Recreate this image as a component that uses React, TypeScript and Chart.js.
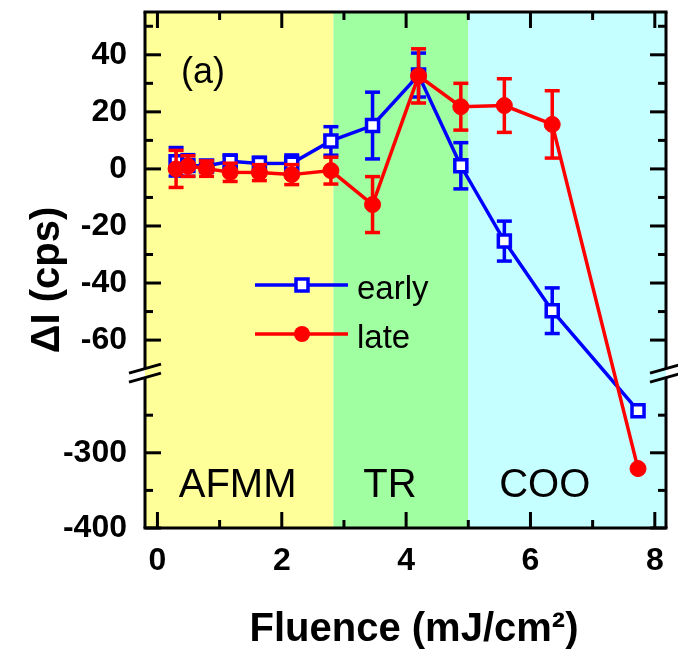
import { useEffect, useRef } from 'react';
import { Chart, registerables, LinearScale } from 'chart.js';

Chart.register(...registerables);

// ---------------- data ----------------
const fluence = [0.30, 0.49, 0.79, 1.17, 1.64, 2.16, 2.79, 3.46, 4.20, 4.88, 5.58, 6.35, 7.73];
const earlyValues = [2.5, 1.2, 1.0, 2.7, 1.9, 2.0, 9.8, 15.2, 32.9, 1.1, -25.3, -49.7, -244];
const earlyErrors = [5.0, 3.8, 1.7, 2.2, 2.2, 2.9, 5.0, 11.7, 7.7, 8.1, 7.0, 8.0, 0];
const lateValues = [0.0, 1.0, 0.1, -1.2, -1.3, -2.0, -0.6, -12.5, 32.6, 21.8, 22.2, 15.6, -321];
const lateErrors = [6.5, 3.6, 2.7, 3.2, 2.8, 3.5, 4.7, 9.8, 9.5, 8.2, 9.4, 11.8, 0];
const seriesNames = ['early', 'late'];

const xLabelTicks = [0, 2, 4, 6, 8];
const xMinorTicks = [1, 3, 5, 7];
const yLabelTicks = [-400, -300, -60, -40, -20, 0, 20, 40];
const yMinorTicks = [-350, -250, -50, -30, -10, 10, 30, 50];

const regionNames = ['AFMM', 'TR', 'COO'];
const regionEdges = [2.83, 5.0];
const regionLabelX = [1.29, 3.74, 6.23];
const regionLabelY = -359;
const panelLabel = '(a)';
const xTitle = 'Fluence (mJ/cm\u00B2)';
const yTitle = '\u0394I (cps)';

// broken y axis segments
const UPPER = [-70, 55];
const LOWER = [-400, -200];
const UPPER_FRAC = 358 / 518;
const LOWER_FRAC = 151 / 518;

const FONT = '"Liberation Sans", Arial, Helvetica, sans-serif';
const RED = '#FF0000';
const BLUE = '#0000FF';
const BAND_COLORS = ['#FFFF99', '#A0FFA0', '#C6FFFF'];
const LW = 3.5;

class BrokenLinearScale extends LinearScale {
  static id = 'brokenLinear';
  static defaults = LinearScale.defaults;
  breakPixels(): [number, number] {
    const s: any = this;
    const h = s.bottom - s.top;
    return [s.top + h * UPPER_FRAC, s.bottom - h * LOWER_FRAC];
  }
  getPixelForValue(v: number): number {
    const s: any = this;
    if (v === null || v === undefined || isNaN(v)) return NaN;
    const [bt, bb] = this.breakPixels();
    if (v >= UPPER[0]) return s.top + ((UPPER[1] - v) / (UPPER[1] - UPPER[0])) * (bt - s.top);
    if (v <= LOWER[1]) return s.bottom - ((v - LOWER[0]) / (LOWER[1] - LOWER[0])) * (s.bottom - bb);
    return bt + ((UPPER[0] - v) / (UPPER[0] - LOWER[1])) * (bb - bt);
  }
  getValueForPixel(p: number): number {
    const s: any = this;
    const [bt, bb] = this.breakPixels();
    if (p <= bt) return UPPER[1] - ((p - s.top) / (bt - s.top)) * (UPPER[1] - UPPER[0]);
    if (p >= bb) return LOWER[0] + ((s.bottom - p) / (s.bottom - bb)) * (LOWER[1] - LOWER[0]);
    return UPPER[0] - ((p - bt) / (bb - bt)) * (UPPER[0] - LOWER[1]);
  }
}
Chart.register(BrokenLinearScale as any);

const errorsByDataset = [lateErrors, earlyErrors];
const valuesByDataset = [lateValues, earlyValues];

function seg(ctx: CanvasRenderingContext2D, x1: number, y1: number, x2: number, y2: number) {
  ctx.beginPath();
  ctx.moveTo(x1, y1);
  ctx.lineTo(x2, y2);
  ctx.stroke();
}

const zeroPad = (s: any) => {
  s.paddingTop = 0;
  s.paddingBottom = 0;
  s.paddingLeft = 0;
  s.paddingRight = 0;
};

const decorPlugin = {
  id: 'decor',
  beforeDatasetsDraw(chart: any) {
    const ctx: CanvasRenderingContext2D = chart.ctx;
    const { left, right, top, bottom } = chart.chartArea;
    const xs = chart.scales.x;
    const ys = chart.scales.y;
    const edges = [left, ...regionEdges.map((e) => xs.getPixelForValue(e)), right];
    ctx.save();
    for (let i = 0; i < BAND_COLORS.length; i++) {
      ctx.fillStyle = BAND_COLORS[i];
      ctx.fillRect(edges[i], top, edges[i + 1] - edges[i], bottom - top);
    }
    ctx.fillStyle = '#000';
    ctx.font = `40px ${FONT}`;
    ctx.textAlign = 'center';
    ctx.textBaseline = 'alphabetic';
    regionNames.forEach((name, i) => {
      ctx.fillText(name, xs.getPixelForValue(regionLabelX[i]), ys.getPixelForValue(regionLabelY));
    });
    ctx.font = `36px ${FONT}`;
    ctx.textAlign = 'left';
    ctx.fillText(panelLabel, 181, 83);
    ctx.restore();
  },
  beforeDatasetDraw(chart: any, args: any) {
    const ctx: CanvasRenderingContext2D = chart.ctx;
    const i = args.index;
    const ds = chart.data.datasets[i];
    const xs = chart.scales.x;
    const ys = chart.scales.y;
    ctx.save();
    ctx.strokeStyle = ds.borderColor;
    ctx.lineWidth = LW;
    fluence.forEach((x, k) => {
      const e = errorsByDataset[i][k];
      if (!e) return;
      const v = valuesByDataset[i][k];
      const px = xs.getPixelForValue(x);
      const y1 = ys.getPixelForValue(v + e);
      const y2 = ys.getPixelForValue(v - e);
      seg(ctx, px, y1, px, y2);
      seg(ctx, px - 7.5, y1, px + 7.5, y1);
      seg(ctx, px - 7.5, y2, px + 7.5, y2);
    });
    ctx.restore();
  },
  afterDraw(chart: any) {
    const ctx: CanvasRenderingContext2D = chart.ctx;
    const { left, right, top, bottom } = chart.chartArea;
    const xs = chart.scales.x;
    const ys = chart.scales.y;
    const [bt, bb] = ys.breakPixels();
    ctx.save();
    ctx.strokeStyle = '#000';
    ctx.lineWidth = 3;
    ctx.lineCap = 'butt';
    // frame
    seg(ctx, left - 1.5, top, right + 1.5, top);
    seg(ctx, left - 1.5, bottom, right + 1.5, bottom);
    [left, right].forEach((x) => {
      seg(ctx, x, top, x, bt);
      seg(ctx, x, bb, x, bottom);
    });
    // ticks
    const MAJ = 16;
    const MIN = 8;
    const yt = (vals: number[], len: number) =>
      vals.forEach((v) => {
        const p = ys.getPixelForValue(v);
        seg(ctx, left, p, left + len, p);
        seg(ctx, right, p, right - len, p);
      });
    const xt = (vals: number[], len: number) =>
      vals.forEach((v) => {
        const p = xs.getPixelForValue(v);
        seg(ctx, p, bottom, p, bottom - len);
        seg(ctx, p, top, p, top + len);
      });
    yt(yLabelTicks, MAJ);
    yt(yMinorTicks, MIN);
    xt(xLabelTicks, MAJ);
    xt(xMinorTicks, MIN);
    // break marks
    [left, right].forEach((x) => {
      [bt, bb].forEach((y) => seg(ctx, x - 16, y + 4.5, x + 16, y - 4.5));
    });

    // legend
    const lx0 = 255, lx1 = 348, mx = 302;
    const rows = [285, 334];
    ctx.strokeStyle = BLUE;
    ctx.lineWidth = LW;
    seg(ctx, lx0, rows[0], lx1, rows[0]);
    ctx.fillStyle = '#fff';
    ctx.fillRect(mx - 6, rows[0] - 6, 12, 12);
    ctx.strokeRect(mx - 6, rows[0] - 6, 12, 12);
    ctx.strokeStyle = RED;
    seg(ctx, lx0, rows[1], lx1, rows[1]);
    ctx.fillStyle = RED;
    ctx.beginPath();
    ctx.arc(mx, rows[1], 8, 0, Math.PI * 2);
    ctx.fill();
    ctx.fillStyle = '#000';
    ctx.font = `33px ${FONT}`;
    ctx.textAlign = 'left';
    ctx.textBaseline = 'alphabetic';
    ctx.fillText(seriesNames[0], 357, rows[0] + 14);
    ctx.fillText(seriesNames[1], 357, rows[1] + 14);

    // axis titles
    ctx.font = `bold 40px ${FONT}`;
    ctx.textAlign = 'center';
    ctx.fillText(xTitle, 414, 641);
    ctx.translate(59, 280);
    ctx.rotate(-Math.PI / 2);
    ctx.fillText(yTitle, 0, 0);
    ctx.restore();
  },
};

export default function App() {
  const ref = useRef<HTMLCanvasElement>(null);
  useEffect(() => {
    const canvas = ref.current!;
    const tickFont = { family: FONT, size: 32, weight: 'bold' as const };
    const chart = new Chart(canvas, {
      type: 'line',
      data: {
        datasets: [
          {
            label: seriesNames[1],
            data: fluence.map((x, i) => ({ x, y: lateValues[i] })),
            borderColor: RED,
            backgroundColor: RED,
            borderWidth: LW,
            pointStyle: 'circle',
            pointRadius: 8,
            pointBackgroundColor: RED,
            pointBorderColor: RED,
            pointBorderWidth: 1,
            tension: 0,
          },
          {
            label: seriesNames[0],
            data: fluence.map((x, i) => ({ x, y: earlyValues[i] })),
            borderColor: BLUE,
            backgroundColor: '#fff',
            borderWidth: LW,
            pointStyle: 'rect',
            pointRadius: 8.5,
            pointBackgroundColor: '#fff',
            pointBorderColor: BLUE,
            pointBorderWidth: 3.5,
            tension: 0,
          },
        ],
      },
      options: {
        responsive: false,
        animation: false,
        devicePixelRatio: 1,
        events: [],
        layout: { padding: { top: 10, right: 10, left: 0, bottom: 0 } },
        plugins: { legend: { display: false }, tooltip: { enabled: false } },
        scales: {
          x: {
            type: 'linear',
            min: -0.2,
            max: 8.18,
            afterBuildTicks: (s: any) => {
              s.ticks = xLabelTicks.map((value) => ({ value }));
            },
            afterFit: (s: any) => {
              s.height = 124;
              zeroPad(s);
            },
            grid: { display: false, drawTicks: false },
            border: { display: false },
            ticks: {
              color: '#000',
              font: tickFont,
              padding: 14,
              maxRotation: 0,
              autoSkip: false,
              callback: (v: any) => String(v),
            },
          },
          y: {
            type: 'brokenLinear' as any,
            min: -400,
            max: 55,
            afterBuildTicks: (s: any) => {
              s.ticks = yLabelTicks.map((value) => ({ value }));
            },
            afterFit: (s: any) => {
              s.width = 145;
              zeroPad(s);
            },
            grid: { display: false, drawTicks: false },
            border: { display: false },
            ticks: {
              color: '#000',
              font: tickFont,
              padding: 18,
              autoSkip: false,
              callback: (v: any) => String(v),
            },
          },
        },
      } as any,
      plugins: [decorPlugin],
    });
    return () => chart.destroy();
  }, []);
  return (
    <div style={{ position: 'fixed', left: 0, top: 0, width: 678, height: 652, background: '#fff' }}>
      <canvas ref={ref} width={678} height={652} style={{ display: 'block' }} />
    </div>
  );
}
